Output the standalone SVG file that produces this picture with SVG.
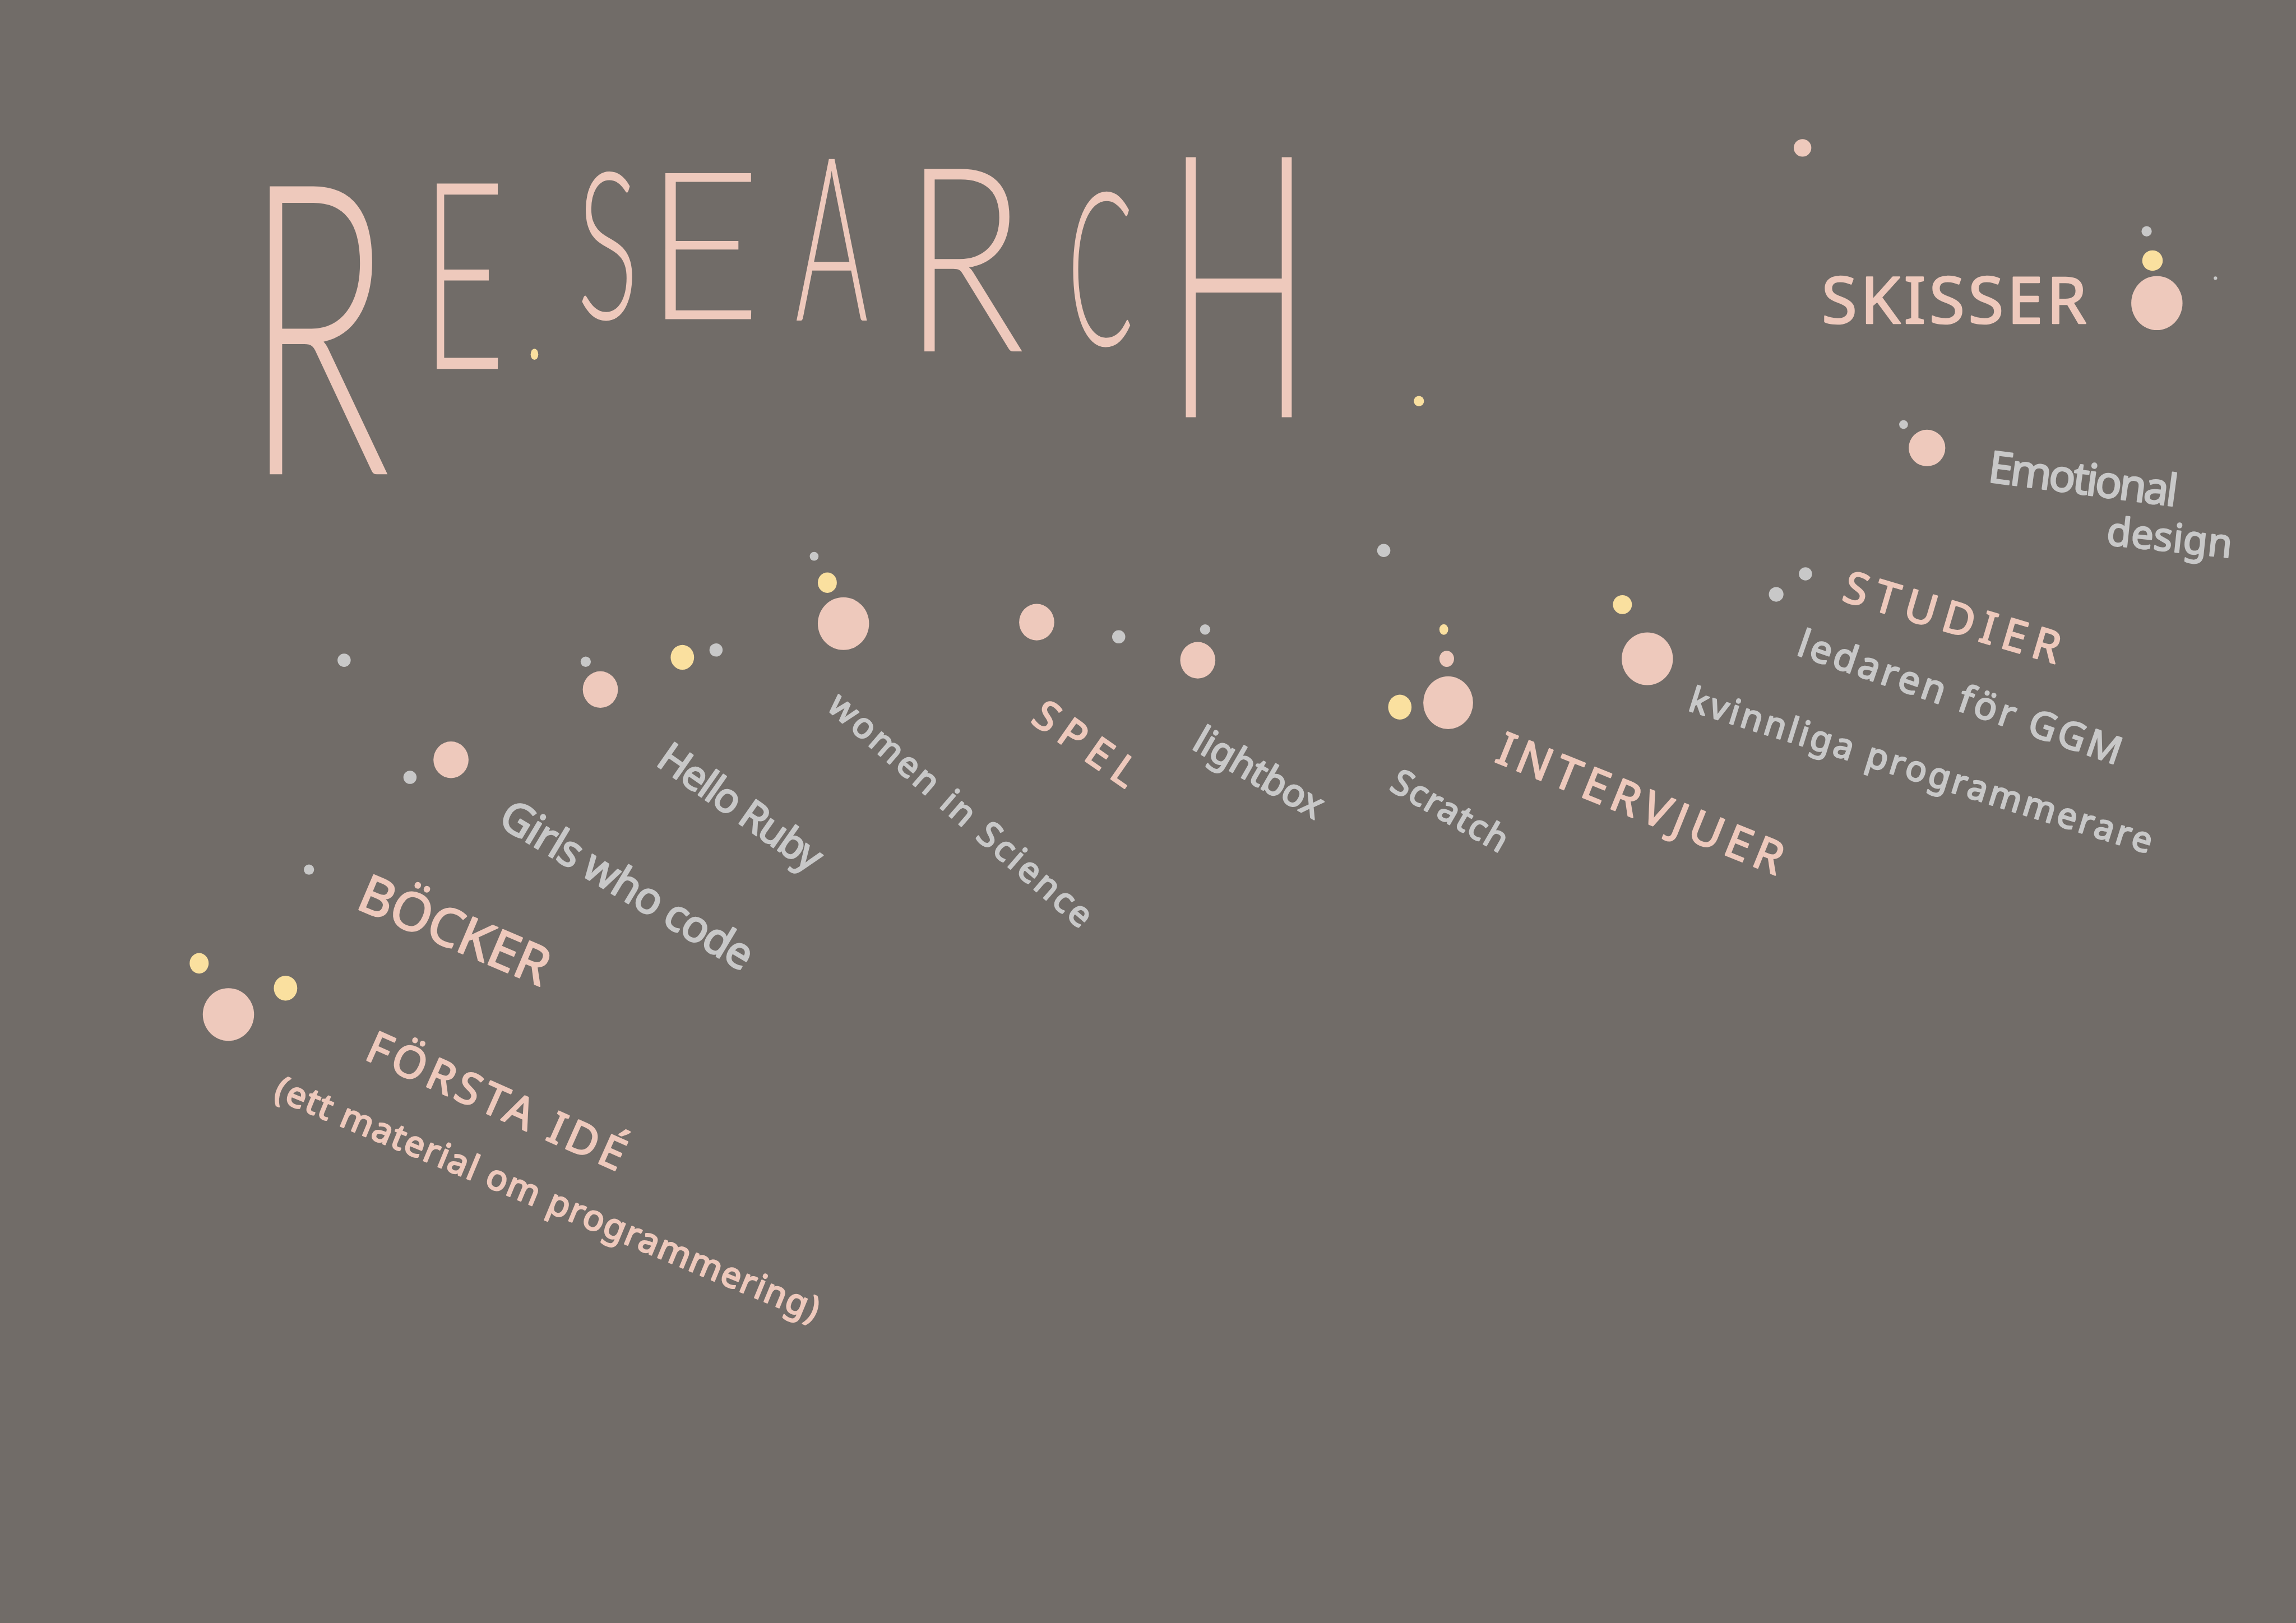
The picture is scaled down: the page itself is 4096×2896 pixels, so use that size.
<svg xmlns="http://www.w3.org/2000/svg" width="4096" height="2896" viewBox="0 0 4096 2896">
<style>
.bg{fill:#716c68}
.pk{fill:#eec9bc}
.gy{fill:#c8c8c8}
.yl{fill:#fae09f}
.title{font-family:Lato,"Open Sans","DejaVu Sans",sans-serif;font-weight:300;fill:#eec9bc}
.lab{font-family:"Noto Sans","DejaVu Sans",sans-serif;font-weight:400;stroke-width:1;stroke-linejoin:round;stroke-linecap:round}
.lp{fill:#eec9bc;stroke:#eec9bc}
.lg{fill:#c8c8c8;stroke:#c8c8c8}
</style>
<rect class="bg" x="0" y="0" width="4096" height="2896"/>
<g transform="scale(2.61224)">
<g id="title">
<text class="title" transform="translate(167 324) scale(1 1.891)" x="0" y="0" font-size="147" textLength="100" lengthAdjust="spacingAndGlyphs">R</text>
<text class="title" transform="translate(288 252) scale(1 1.946)" x="0" y="0" font-size="92" textLength="57" lengthAdjust="spacingAndGlyphs">E</text>
<text class="title" transform="translate(394 218) scale(1 1.905)" x="0" y="0" font-size="74" textLength="42" lengthAdjust="spacingAndGlyphs">S</text>
<text class="title" transform="translate(440 218) scale(1 1.093)" x="0" y="0" font-size="129" textLength="80" lengthAdjust="spacingAndGlyphs">E</text>
<text class="title" transform="translate(543 219) scale(1 2.261)" x="0" y="0" font-size="69" textLength="50" lengthAdjust="spacingAndGlyphs">A</text>
<text class="title" transform="translate(617 240) scale(1 1.443)" x="0" y="0" font-size="122" textLength="83" lengthAdjust="spacingAndGlyphs">R</text>
<text class="title" transform="translate(729 236) scale(1 2.371)" x="0" y="0" font-size="62" textLength="45" lengthAdjust="spacingAndGlyphs">C</text>
<text class="title" transform="translate(796 285) scale(1 2.041)" x="0" y="0" font-size="123" textLength="100" lengthAdjust="spacingAndGlyphs">H</text>
<ellipse class="yl" cx="365" cy="242" rx="2.6" ry="3.8"/>
</g>
<g id="dots">
<circle class="pk" cx="1231" cy="101" r="6"/>
<circle class="gy" cx="1466" cy="158" r="3.5"/>
<circle class="yl" cx="1470" cy="178" r="7"/>
<ellipse class="pk" cx="1473" cy="207" rx="17.5" ry="18.5"/>
<circle class="gy" cx="1513" cy="190" r="1.2"/>
<circle class="yl" cx="969" cy="274" r="3.5"/>
<circle class="gy" cx="1300" cy="290" r="3"/>
<ellipse class="pk" cx="1316" cy="306" rx="12.5" ry="12.5"/>
<circle class="gy" cx="945" cy="376" r="4.5"/>
<circle class="gy" cx="1233" cy="392" r="4.5"/>
<circle class="gy" cx="1213" cy="406" r="5"/>
<circle class="yl" cx="1108" cy="413" r="6.5"/>
<ellipse class="pk" cx="1125" cy="450" rx="17.5" ry="18"/>
<ellipse class="yl" cx="986" cy="430" rx="3" ry="3.6"/>
<ellipse class="pk" cx="988" cy="450" rx="5" ry="5.5"/>
<ellipse class="pk" cx="989" cy="480" rx="17" ry="18"/>
<ellipse class="yl" cx="956" cy="483" rx="8" ry="8.5"/>
<circle class="gy" cx="823" cy="430" r="3.5"/>
<ellipse class="pk" cx="818" cy="451" rx="12" ry="12.5"/>
<circle class="gy" cx="764" cy="435" r="4.5"/>
<ellipse class="pk" cx="708" cy="425" rx="12" ry="12.5"/>
<circle class="gy" cx="556" cy="380" r="3"/>
<ellipse class="yl" cx="565" cy="398" rx="6.5" ry="7"/>
<ellipse class="pk" cx="576" cy="426" rx="17.5" ry="18"/>
<circle class="gy" cx="489" cy="444" r="4.5"/>
<ellipse class="yl" cx="466" cy="449" rx="8" ry="8.5"/>
<circle class="gy" cx="400" cy="452" r="3.5"/>
<ellipse class="pk" cx="410" cy="471" rx="12" ry="12.5"/>
<circle class="gy" cx="235" cy="451" r="4.5"/>
<ellipse class="pk" cx="308" cy="519" rx="12" ry="12.5"/>
<circle class="gy" cx="280" cy="531" r="4.5"/>
<circle class="gy" cx="211" cy="594" r="3.5"/>
<ellipse class="yl" cx="136" cy="658" rx="6.5" ry="7"/>
<ellipse class="yl" cx="195" cy="675" rx="8" ry="8.5"/>
<ellipse class="pk" cx="156" cy="693" rx="17.5" ry="18"/>
</g>
<g id="labels">
<text id="skisser" class="lab lp" x="1244" y="221" font-size="44" textLength="181" lengthAdjust="spacing">SKISSER</text>
<text id="emotional" class="lab lg" x="1357" y="329" font-size="30" textLength="130" lengthAdjust="spacing" transform="rotate(7.5 1357 329)">Emotional</text>
<text id="design" class="lab lg" x="1438" y="372" font-size="27" textLength="86" lengthAdjust="spacing" transform="rotate(6 1438 372)">design</text>
<text id="studier" class="lab lp" x="1257" y="410" font-size="30" textLength="153" lengthAdjust="spacing" transform="rotate(16.5 1257 410)">STUDIER</text>
<text id="ledaren" class="lab lg" x="1226" y="447" font-size="26" textLength="232" lengthAdjust="spacing" transform="rotate(19 1226 447)">ledaren för GGM</text>
<text id="kvinnliga" class="lab lg" x="1152" y="485" font-size="24" textLength="330" lengthAdjust="spacing" transform="rotate(17.3 1152 485)">kvinnliga programmerare</text>
<text id="intervjuer" class="lab lp" x="1020" y="520" font-size="31" textLength="208" lengthAdjust="spacing" transform="rotate(22 1020 520)">INTERVJUER</text>
<text id="scratch" class="lab lg" x="948" y="539" font-size="24" textLength="88" lengthAdjust="spacing" transform="rotate(30 948 539)">Scratch</text>
<text id="lightbox" class="lab lg" x="813" y="511" font-size="26" textLength="98" lengthAdjust="spacing" transform="rotate(30 813 511)">lightbox</text>
<text id="spel" class="lab lp" x="703" y="493" font-size="28" textLength="80" lengthAdjust="spacing" transform="rotate(35 703 493)">SPEL</text>
<text id="women" class="lab lg" x="564" y="484" font-size="24" textLength="230" lengthAdjust="spacing" transform="rotate(41 564 484)">women in Science</text>
<text id="hello" class="lab lg" x="447" y="522" font-size="28" textLength="130" lengthAdjust="spacing" transform="rotate(35 447 522)">Hello Ruby</text>
<text id="girls" class="lab lg" x="339" y="563" font-size="30" textLength="196" lengthAdjust="spacing" transform="rotate(31 339 563)">Girls who code</text>
<text id="bocker" class="lab lp" x="242" y="620" font-size="36" textLength="138" lengthAdjust="spacing" transform="rotate(23 242 620)">BÖCKER</text>
<text id="forsta" class="lab lp" x="248" y="723" font-size="30" textLength="190" lengthAdjust="spacing" transform="rotate(24 248 723)">FÖRSTA IDÉ</text>
<text id="ett" class="lab lp" x="186" y="750" font-size="24" textLength="400" lengthAdjust="spacing" transform="rotate(22.5 186 750)">(ett material om programmering)</text>
</g>
</g>
</svg>
